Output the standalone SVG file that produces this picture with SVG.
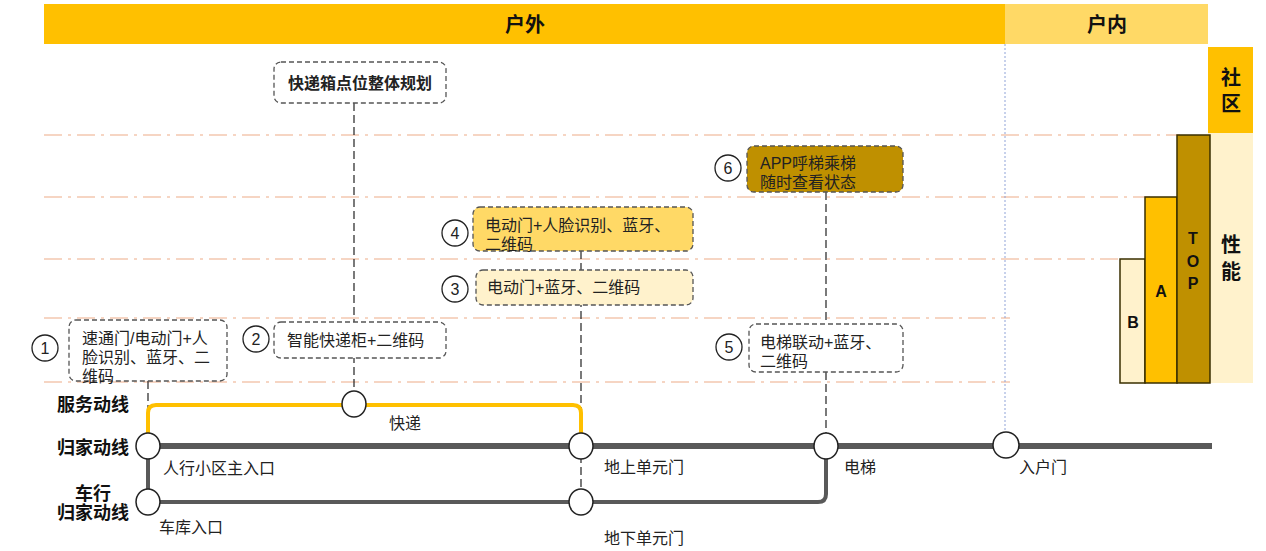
<svg xmlns="http://www.w3.org/2000/svg" width="1266" height="551" viewBox="0 0 1266 551">
<style>
.t{font-family:"Liberation Sans","Noto Sans CJK SC",sans-serif;font-size:16px;fill:#222}
.n{font-family:"Liberation Sans","Noto Sans CJK SC",sans-serif;font-size:16px;fill:#222}
.b{font-family:"Liberation Sans","Noto Sans CJK SC",sans-serif;font-size:18px;font-weight:bold;fill:#111}
.bl{font-family:"Liberation Sans","Noto Sans CJK SC",sans-serif;font-size:16px;font-weight:bold;fill:#111}
.h{font-family:"Liberation Sans","Noto Sans CJK SC",sans-serif;font-size:20px;font-weight:bold;fill:#111}
.box{stroke:#555;stroke-width:1.3;stroke-dasharray:5 3}
.grid{stroke:#F4C7B0;stroke-width:1.5;stroke-dasharray:18 6 3 6;fill:none}
.lead{stroke:#222;stroke-width:1.2;stroke-dasharray:8 4;fill:none}
.node{fill:#fff;stroke:#222;stroke-width:1.5}
.num{fill:#fff;stroke:#222;stroke-width:1.3}
.bar{stroke:#3a2f00;stroke-width:1.5}
</style>
<rect width="1266" height="551" fill="#fff"/>
<g id="header">
<rect x="44" y="4" width="961" height="40" fill="#FFC000"/>
<rect x="1005" y="4" width="203" height="40" fill="#FFD966"/>
<text class="h" x="525" y="32" text-anchor="middle">户外</text>
<text class="h" x="1107" y="32" text-anchor="middle">户内</text>
</g>
<g id="side">
<rect x="1208" y="47" width="45" height="86" fill="#FFC000"/>
<text class="h" text-anchor="middle"><tspan x="1231" y="85">社</tspan><tspan x="1231" y="111">区</tspan></text>
<rect x="1208" y="133" width="45" height="250" fill="#FFF2CC"/>
<text class="h" text-anchor="middle"><tspan x="1231" y="252">性</tspan><tspan x="1231" y="279">能</tspan></text>
</g>
<g id="grid">
<line class="grid" x1="44" y1="135" x2="1180" y2="135"/>
<line class="grid" x1="44" y1="197" x2="1150" y2="197"/>
<line class="grid" x1="44" y1="259" x2="1120" y2="259"/>
<line class="grid" x1="44" y1="318" x2="1010" y2="318"/>
<line class="grid" x1="44" y1="382" x2="1010" y2="382"/>
<line x1="1005" y1="44" x2="1005" y2="432" stroke="#8FA3D8" stroke-width="1" stroke-dasharray="2 2"/>
</g>
<g id="bars">
<rect class="bar" x="1120" y="259" width="25" height="124" fill="#FFF2CC"/>
<rect class="bar" x="1145" y="197" width="32" height="186" fill="#FFC000"/>
<rect class="bar" x="1177" y="135" width="33" height="248" fill="#BF9000"/>
<text class="bl" x="1133" y="328" text-anchor="middle">B</text>
<text class="bl" x="1161" y="297" text-anchor="middle">A</text>
<text class="bl" x="1193" text-anchor="middle"><tspan x="1193" y="244">T</tspan><tspan x="1193" y="267">O</tspan><tspan x="1193" y="289">P</tspan></text>
</g>
<g id="connectors">
<line class="lead" x1="354" y1="103" x2="354" y2="392"/>
<line class="lead" x1="148" y1="381" x2="148" y2="433"/>
<line class="lead" x1="581" y1="251" x2="581" y2="489"/>
<line class="lead" x1="826" y1="192" x2="826" y2="433"/>
<path d="M148 433 V413 Q148 405 156 405 H573 Q581 405 581 413 V433" fill="none" stroke="#FFC000" stroke-width="4"/>
<line x1="148" y1="446" x2="1212" y2="446" stroke="#595959" stroke-width="6"/>
<path d="M148 446 V502 H818 Q826 502 826 494 V446" fill="none" stroke="#595959" stroke-width="4"/>
</g>
<g id="nodes">
<ellipse class="node" cx="148" cy="446" rx="12" ry="13"/>
<ellipse class="node" cx="148" cy="502" rx="12" ry="13"/>
<ellipse class="node" cx="354" cy="404" rx="12" ry="13"/>
<ellipse class="node" cx="581" cy="446" rx="12" ry="13"/>
<ellipse class="node" cx="581" cy="502" rx="12" ry="13"/>
<ellipse class="node" cx="826" cy="446" rx="12" ry="13"/>
<ellipse class="node" cx="1006" cy="445" rx="13" ry="13"/>
</g>
<g id="labels">
<text class="b" x="93" y="411" text-anchor="middle">服务动线</text>
<text class="b" x="93" y="454" text-anchor="middle">归家动线</text>
<text class="b" text-anchor="middle"><tspan x="93" y="500">车行</tspan><tspan x="93" y="519">归家动线</tspan></text>
<text class="t" x="389" y="429">快递</text>
<text class="t" x="163" y="474">人行小区主入口</text>
<text class="t" x="159" y="533">车库入口</text>
<text class="t" x="604" y="473">地上单元门</text>
<text class="t" x="604" y="544">地下单元门</text>
<text class="t" x="844" y="473">电梯</text>
<text class="t" x="1019" y="473">入户门</text>
</g>
<g id="box-plan">
<rect class="box" x="274" y="62" width="172" height="41" rx="7" fill="#fff"/>
<text class="t" x="360" y="89" text-anchor="middle" font-weight="bold" fill="#333">快递箱点位整体规划</text>
</g>
<g id="box1">
<circle class="num" cx="45" cy="348" r="13"/>
<text class="n" x="45" y="354" text-anchor="middle">1</text>
<rect class="box" x="69" y="320" width="158" height="61" rx="7" fill="#fff"/>
<text class="t"><tspan x="82" y="344">速通门/电动门+人</tspan><tspan x="82" y="363">脸识别、蓝牙、二</tspan><tspan x="82" y="382">维码</tspan></text>
</g>
<g id="box2">
<circle class="num" cx="256" cy="339" r="13"/>
<text class="n" x="256" y="345" text-anchor="middle">2</text>
<rect class="box" x="274" y="322" width="172" height="36" rx="7" fill="#fff"/>
<text class="t" x="287" y="346">智能快递柜+二维码</text>
</g>
<g id="box4">
<circle class="num" cx="455" cy="233" r="13"/>
<text class="n" x="455" y="239" text-anchor="middle">4</text>
<rect class="box" x="473" y="207" width="220" height="44" rx="7" fill="#FFD966"/>
<text class="t"><tspan x="485" y="231">电动门+人脸识别、蓝牙、</tspan><tspan x="485" y="250">二维码</tspan></text>
</g>
<g id="box3">
<circle class="num" cx="455" cy="289" r="13"/>
<text class="n" x="455" y="295" text-anchor="middle">3</text>
<rect class="box" x="476" y="270" width="217" height="35" rx="7" fill="#FFF2CC"/>
<text class="t" x="487" y="293">电动门+蓝牙、二维码</text>
</g>
<g id="box6">
<circle class="num" cx="728" cy="168" r="13"/>
<text class="n" x="728" y="174" text-anchor="middle">6</text>
<rect class="box" x="747" y="146" width="156" height="46" rx="7" fill="#BF9000"/>
<text class="t"><tspan x="760" y="169">APP呼梯乘梯</tspan><tspan x="760" y="188">随时查看状态</tspan></text>
</g>
<g id="box5">
<circle class="num" cx="729" cy="347" r="13"/>
<text class="n" x="729" y="353" text-anchor="middle">5</text>
<rect class="box" x="749" y="324" width="154" height="48" rx="7" fill="#fff"/>
<text class="t"><tspan x="760" y="348">电梯联动+蓝牙、</tspan><tspan x="760" y="367">二维码</tspan></text>
</g>
</svg>
